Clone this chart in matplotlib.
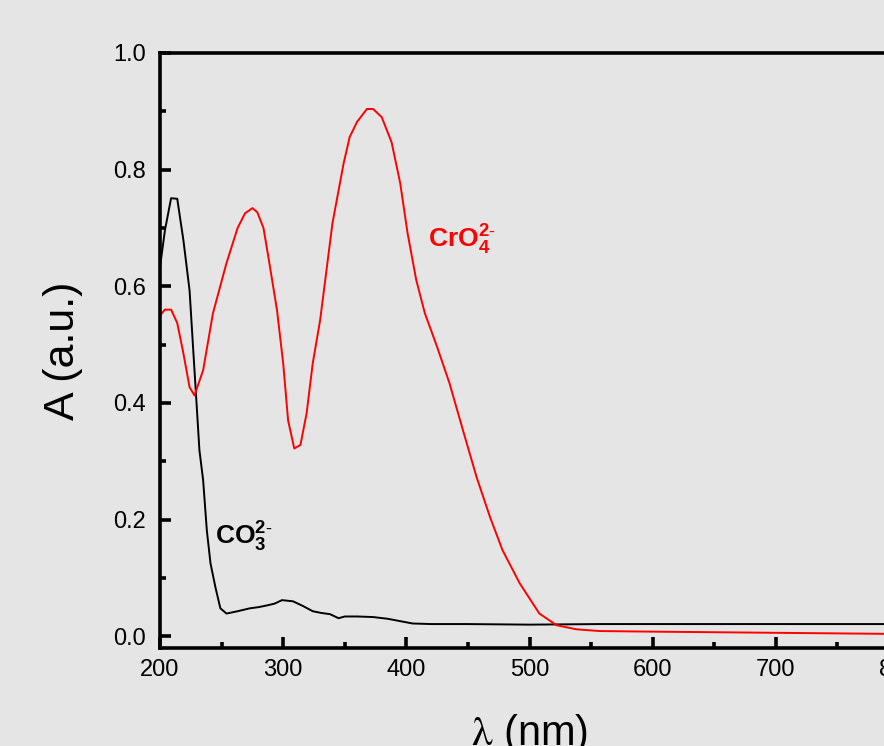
import numpy as np
import matplotlib
matplotlib.use("Agg")
import matplotlib.pyplot as plt
from matplotlib.ticker import MultipleLocator

# CO3(2-) spectrum
co3_x = [200, 204, 209, 214, 219, 224, 227, 230, 232, 235, 238, 241, 245, 249, 254,
         263, 273, 280, 287, 293, 299, 308, 316, 324, 331, 338, 345, 350, 360, 373,
         385, 395, 405, 420, 449, 500, 557, 600, 650, 700, 750, 800]
co3_y = [0.633, 0.696, 0.751, 0.750, 0.679, 0.593, 0.490, 0.388, 0.319, 0.268, 0.182,
         0.125, 0.084, 0.048, 0.039, 0.043, 0.048, 0.050, 0.053, 0.056, 0.062, 0.060,
         0.052, 0.043, 0.040, 0.038, 0.031, 0.034, 0.034, 0.033, 0.030, 0.026, 0.022,
         0.021, 0.021, 0.020, 0.021, 0.021, 0.021, 0.021, 0.021, 0.021]

# CrO4(2-) spectrum
cro4_x = [200, 204, 209, 214, 219, 224, 228, 235, 243, 254, 263, 269, 275, 279, 284,
          288, 295, 300, 304, 309, 314, 319, 324, 330, 340, 349, 354, 360, 368, 373,
          380, 388, 395, 401, 408, 415, 425, 435, 446, 457, 468, 478, 492, 508, 522,
          538, 557, 600, 650, 700, 750, 800]
cro4_y = [0.550, 0.560, 0.560, 0.537, 0.485, 0.427, 0.413, 0.456, 0.554, 0.640, 0.700,
          0.725, 0.734, 0.727, 0.700, 0.650, 0.559, 0.468, 0.370, 0.322, 0.328, 0.382,
          0.468, 0.542, 0.708, 0.810, 0.856, 0.882, 0.904, 0.904, 0.890, 0.847, 0.777,
          0.691, 0.611, 0.554, 0.496, 0.434, 0.353, 0.273, 0.204, 0.148, 0.091, 0.039,
          0.019, 0.012, 0.009, 0.008, 0.007, 0.006, 0.005, 0.004]

x_ticks = [200, 300, 400, 500, 600, 700, 800]
y_ticks = [0.0, 0.2, 0.4, 0.6, 0.8, 1.0]

plt.rcParams['font.family'] = ['Liberation Sans', 'DejaVu Sans']
plt.rcParams['mathtext.fontset'] = 'custom'
plt.rcParams['mathtext.rm'] = 'STIXGeneral'
plt.rcParams['mathtext.it'] = 'STIXGeneral'
plt.rcParams['mathtext.bf'] = 'Liberation Sans:bold'

bg = '#e5e5e5'
fig = plt.figure(figsize=(8.84, 7.46), dpi=100, facecolor=bg)
ax = fig.add_axes([0.181, 0.1314, 0.836, 0.7976], facecolor=bg)

ax.plot(co3_x, co3_y, color='black', lw=1.4)
ax.plot(cro4_x, cro4_y, color='red', lw=1.4)

ax.text(244.6, 0.158, r'$\mathbf{CO_3^{2\text{-}}}$', color='black', fontsize=19,
        ha='left', va='baseline')
ax.text(417.5, 0.666, r'$\mathbf{CrO_4^{2\text{-}}}$', color='red', fontsize=19,
        ha='left', va='baseline')

ax.set_xlim(200, 800)
ax.set_ylim(-0.02, 1.0)
ax.set_xticks(x_ticks)
ax.set_yticks(y_ticks)
ax.set_yticklabels(['%.1f' % v for v in y_ticks])
ax.xaxis.set_minor_locator(MultipleLocator(50))
ax.yaxis.set_minor_locator(MultipleLocator(0.1))

for s in ax.spines.values():
    s.set_linewidth(2.6)
ax.tick_params(which='major', direction='in', length=8, width=2.6,
               labelsize=17, pad=8, top=False, right=False)
ax.tick_params(which='minor', direction='in', length=4, width=2.6,
               top=False, right=False)
ax.tick_params(axis='y', pad=10)

ax.set_xlabel(r'$\mathrm{\lambda}$ (nm)', fontsize=30, labelpad=22)
ax.set_ylabel('A (a.u.)', fontsize=31, labelpad=22)

fig.savefig('out.png', dpi=100, facecolor=bg)
